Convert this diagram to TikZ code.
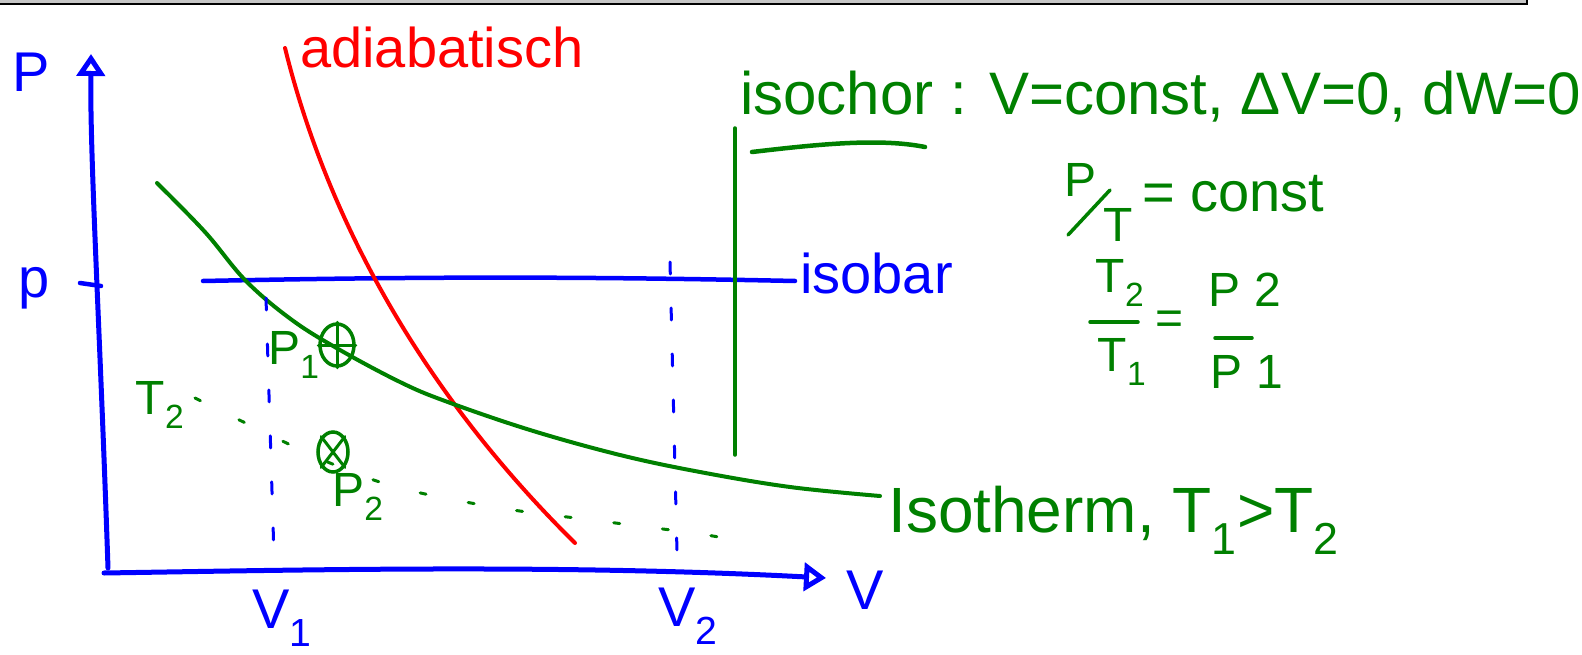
\documentclass[tikz,border=0pt]{standalone}
\usepackage{fontspec}
\setmainfont{Liberation Sans}
\usetikzlibrary{arrows.meta,shapes.geometric}
\definecolor{pblue}{RGB}{0,0,255}
\definecolor{pgreen}{RGB}{0,128,0}
\definecolor{pred}{RGB}{255,0,0}
\begin{document}
\begin{tikzpicture}[x=1pt,y=-1pt,
  ink/.style={line width=4.5pt,line cap=round,line join=round},
  blueink/.style={ink,pblue},
  greenink/.style={ink,pgreen},
  redink/.style={ink,pred},
  axisline/.style={blueink,line width=5pt,-{Triangle[open,length=22pt,width=28pt]}},
  guide/.style={blueink,line width=3pt,dash pattern=on 12pt off 34pt},
  hw/.style={inner sep=0pt,font=\fontsize{56}{62}\selectfont},
  hwsmall/.style={inner sep=0pt,font=\fontsize{48}{54}\selectfont},
  statept/.style={draw=pgreen,line width=3.5pt,ellipse,inner sep=0pt},
]
\useasboundingbox (0,0) rectangle (1582,655);
% window frame at top
\fill[gray!45] (0,0) rectangle (1527,3);
\draw[line width=2pt] (0,4) -- (1527,4) -- (1527,0);

% axes
\coordinate (yb) at (108,568);
\coordinate (yt) at (91,54);
\coordinate (xl) at (104,573);
\coordinate (xr) at (826,578);
\draw[axisline] (yb) .. controls (100,330) and (90,160) .. (yt);
\draw[axisline] (xl) .. controls (300,570) and (560,564) .. (xr);
\node[hw,pblue,anchor=base west] (plab) at (12,92) {P};
\node[hw,pblue,anchor=center] (vlab) at (865,590) {V};

% pressure level p
\node[hw,pblue,anchor=base west] (plevel) at (18,297) {p};
\coordinate (ptick1) at (80,283);
\coordinate (ptick2) at (101,286);
\draw[blueink] (ptick1) -- (ptick2);

% isobar
\coordinate (ib1) at (203,281);
\coordinate (ib2) at (795,281);
\draw[blueink] (ib1) .. controls (400,277) and (560,276) .. (ib2);
\node[hw,pblue,anchor=base west] (isobar) at (800,293) {isobar};

% isochor
\coordinate (ic1) at (735,128);
\coordinate (ic2) at (735,455);
\draw[greenink,line width=3.5pt] (ic1) -- (ic2);
\node[hw,pgreen,anchor=base west,font=\fontsize{60}{66}\selectfont] (isochor) at (740,115) {isochor : V=const, ΔV=0, dW=0};
\coordinate (ul1) at (752,152);
\coordinate (ul2) at (925,147);
\draw[greenink] (ul1) .. controls (820,144) and (880,138) .. (ul2);

% P/T = const
\node[hwsmall,pgreen] (pt-p) at (1080,180) {P};
\node[hwsmall,pgreen] (pt-t) at (1118,225) {T};
\coordinate (sl1) at (1068,235);
\coordinate (sl2) at (1110,190);
\draw[greenink,line width=3.5pt] (sl1) -- (sl2);
\node[hw,pgreen,anchor=base west] (ptconst) at (1142,212) {= const};

% T2/T1 = P2/P1
\node[hwsmall,pgreen] (t2) at (1120,283) {T\textsubscript{2}};
\node[hwsmall,pgreen] (t1) at (1122,362) {T\textsubscript{1}};
\coordinate (fb1) at (1090,322);
\coordinate (fb2) at (1138,322);
\draw[greenink,line width=3.5pt] (fb1) -- (fb2);
\node[hwsmall,pgreen] (eqs) at (1170,323) {=};
\node[hwsmall,pgreen] (p2f) at (1245,290) {P 2};
\node[hwsmall,pgreen] (p1f) at (1247,372) {P 1};
\coordinate (fc1) at (1215,338);
\coordinate (fc2) at (1252,338);
\draw[greenink,line width=3.5pt] (fc1) -- (fc2);

% adiabatic
\coordinate (ad1) at (285,48);
\coordinate (ad2) at (575,543);
\draw[redink,line width=4pt] (ad1) .. controls (330,230) and (430,400) .. (ad2);
\node[hw,pred,anchor=base west] (adiab) at (300,68) {adiabatisch};

% isotherm T1
\draw[greenink,line width=4pt] plot[smooth,tension=0.6] coordinates {(157,183) (205,232) (246,281) (292,320) (340,350) (400,382) (445,401) (530,430) (620,455) (700,472) (790,487) (880,496)};
\node[hw,pgreen,anchor=base west,font=\fontsize{64}{70}\selectfont] (isotherm) at (888,532) {Isotherm, T\textsubscript{1}>T\textsubscript{2}};

% isotherm T2 (dotted)
\draw[greenink,line width=3pt,dash pattern=on 6pt off 43pt] plot[smooth,tension=0.6] coordinates {(195,398) (270,435) (330,463) (400,488) (500,508) (600,521) (700,534) (750,543)};
\node[hwsmall,pgreen] (t2lab) at (160,405) {T\textsubscript{2}};

% V1, V2 guides
\coordinate (v1t) at (266,298);
\coordinate (v1b) at (274,556);
\draw[guide] (v1t) -- (v1b);
\coordinate (v2t) at (670,262);
\coordinate (v2b) at (677,552);
\draw[guide] (v2t) -- (v2b);
\node[hw,pblue,anchor=base west] (v1lab) at (252,628) {V\textsubscript{1}};
\node[hw,pblue,anchor=base west] (v2lab) at (658,626) {V\textsubscript{2}};

% states
\node[statept,minimum width=34pt,minimum height=42pt] (s1) at (337,345) {};
\draw[greenink,line width=3pt] (s1.north) -- (s1.south);
\draw[greenink,line width=3pt] (s1.west) -- (s1.east);
\node[hwsmall,pgreen] (s1lab) at (294,355) {P\textsubscript{1}};
\node[statept,minimum width=30pt,minimum height=40pt] (s2) at (333,452) {};
\draw[greenink,line width=3pt] (s2.north west) -- (s2.south east);
\draw[greenink,line width=3pt] (s2.north east) -- (s2.south west);
\node[hwsmall,pgreen] (s2lab) at (358,497) {P\textsubscript{2}};
\end{tikzpicture}
\end{document}
